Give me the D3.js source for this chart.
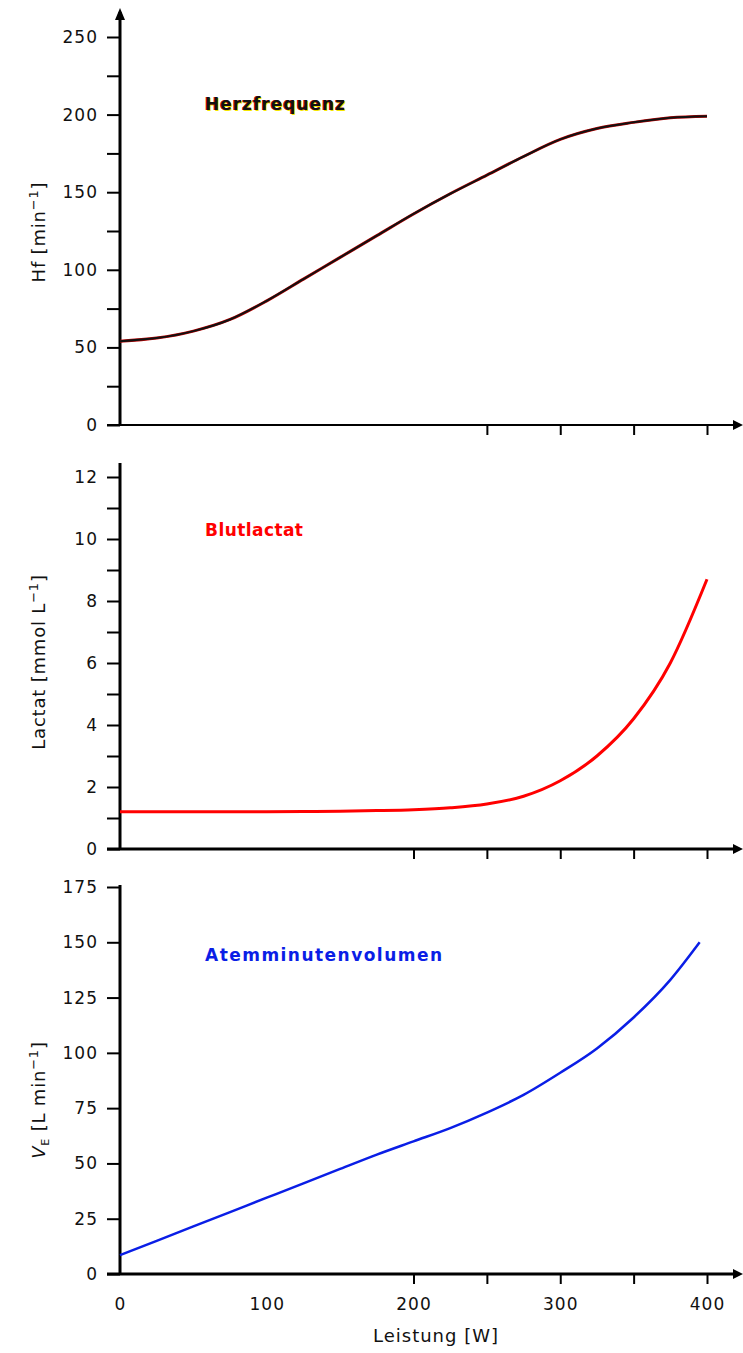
<!DOCTYPE html>
<html>
<head>
<meta charset="utf-8">
<script src="https://cdn.jsdelivr.net/npm/d3@7"></script>
<style>
  body { margin: 0; background: #fff; }
  svg { display: block; }
  text { font-family: "DejaVu Sans", "Open Sans", sans-serif; }
</style>
</head>
<body>
<svg width="743" height="1353"></svg>
<script>
// x values (Leistung in W) shared by all panels
const leistung = [0, 25, 50, 75, 100, 125, 150, 175, 200, 225, 250, 275, 300, 325, 350, 375, 400];

// Herzfrequenz [min-1]
const hf = [54, 56, 60.5, 68, 80, 94, 108, 122, 136, 149, 161, 173, 184, 191, 195, 198, 199];

// Blutlactat [mmol/L]
const lactat = [1.2, 1.2, 1.2, 1.2, 1.2, 1.21, 1.22, 1.24, 1.27, 1.33, 1.45, 1.7, 2.2, 3.0, 4.2, 6.0, 8.7];

// Atemminutenvolumen [L/min] (last point at 395 W)
const veX = [0, 25, 50, 75, 100, 125, 150, 175, 200, 225, 250, 275, 300, 325, 350, 375, 395];
const ve = [8.5, 15, 21.5, 28, 34.5, 41, 47.5, 54, 60, 66, 73, 81, 91, 102, 116, 133, 150];

const hfTicks = [0, 50, 100, 150, 200, 250];
const lacTicks = [0, 2, 4, 6, 8, 10, 12];
const veTicks = [0, 25, 50, 75, 100, 125, 150, 175];
const xLabels = [0, 100, 200, 300, 400];
const xTickMarks = [200, 250, 300, 350, 400];

const svg = d3.select('svg');

const x = d3.scaleLinear().domain([0, 400]).range([120, 707]);

// draw one panel; returns the y scale
function panel(opt) {
    const y = d3.scaleLinear().domain(opt.domain).range(opt.range);
    const g = svg.append('g');

    // minor ticks (no labels)
    g.append('g')
        .attr('transform', `translate(${x(0)},0)`)
        .call(d3.axisLeft(y).tickValues(opt.minor).tickSize(13).tickFormat(''))
        .call(a => a.select('.domain').remove())
        .call(a => a.selectAll('line').attr('stroke', '#000').attr('stroke-width', 2));

    // major ticks with labels
    g.append('g')
        .attr('transform', `translate(${x(0)},0)`)
        .call(d3.axisLeft(y).tickValues(opt.ticks).tickSize(13).tickPadding(9))
        .call(a => a.select('.domain').remove())
        .call(a => a.selectAll('line').attr('stroke', '#000').attr('stroke-width', 2))
        .call(a => a.selectAll('text')
            .attr('font-family', '"DejaVu Sans", sans-serif')
            .attr('font-size', 17).attr('fill', '#111')
            .attr('letter-spacing', 1));

    // x axis tick marks below the line
    g.append('g')
        .attr('transform', `translate(0,${y(0)})`)
        .call(d3.axisBottom(x).tickValues(opt.xTicks).tickSize(10).tickFormat(''))
        .call(a => a.select('.domain').remove())
        .call(a => a.selectAll('line').attr('stroke', '#000').attr('stroke-width', 2));

    // x axis line with arrow
    g.append('line')
        .attr('x1', 107).attr('x2', 738)
        .attr('y1', y(0)).attr('y2', y(0))
        .attr('stroke', '#000').attr('stroke-width', opt.xWidth);
    g.append('path')
        .attr('d', `M743,${y(0)} L733,${y(0) - 5} L733,${y(0) + 5} Z`)
        .attr('fill', '#000');

    // y axis line
    g.append('line')
        .attr('x1', x(0)).attr('x2', x(0))
        .attr('y1', y(0) + 1).attr('y2', opt.top)
        .attr('stroke', '#000').attr('stroke-width', 3);
    if (opt.arrow) {
        g.append('path')
            .attr('d', `M${x(0)},${opt.top - 4} L${x(0) - 5},${opt.top + 8} L${x(0) + 5},${opt.top + 8} Z`)
            .attr('fill', '#000');
    }

    // axis title
    const t = g.append('text')
        .attr('transform', `translate(45,${opt.titleY}) rotate(-90)`)
        .attr('text-anchor', 'middle')
        .attr('font-size', 18)
        .attr('letter-spacing', 0.8)
        .attr('fill', '#111');
    opt.title(t);

    return y;
}

function sup(t) {
    t.append('tspan').attr('dy', -7).attr('font-size', 13).text('\u22121');
    t.append('tspan').attr('dy', 7).text(']');
}

// ---- Herzfrequenz ----
const yHf = panel({
    domain: [0, 250], range: [425, 37], top: 12, arrow: true,
    ticks: hfTicks, minor: d3.range(25, 250, 50), xTicks: [250, 300, 350, 400],
    xWidth: 2, titleY: 232,
    title: t => { t.append('tspan').text('Hf [min'); sup(t); }
});

const hfLine = d3.line().x(d => x(d[0])).y(d => yHf(d[1])).curve(d3.curveMonotoneX);
svg.append('path')
    .datum(leistung.map((d, i) => [d, hf[i]]))
    .attr('fill', 'none')
    .attr('stroke', '#c00000')
    .attr('stroke-width', 3)
    .attr('d', hfLine);
svg.append('path')
    .datum(leistung.map((d, i) => [d, hf[i]]))
    .attr('fill', 'none')
    .attr('stroke', '#111')
    .attr('stroke-width', 2)
    .attr('d', hfLine);

// label with the coloured fringe of the print
[['#f5e600', 1, 1], ['#e00000', -0.7, 0], ['#111', 0, 0]].forEach(([c, dx, dy]) => {
    svg.append('text')
        .attr('x', 205 + dx).attr('y', 110 + dy)
        .attr('font-size', 17).attr('font-weight', 'bold')
        .attr('textLength', 140).attr('lengthAdjust', 'spacing')
        .attr('fill', c)
        .text('Herzfrequenz');
});

// ---- Blutlactat ----
const yLac = panel({
    domain: [0, 12], range: [849, 477], top: 463, arrow: false,
    ticks: lacTicks, minor: d3.range(1, 12, 2), xTicks: xTickMarks,
    xWidth: 3, titleY: 662,
    title: t => { t.append('tspan').text('Lactat [mmol L'); sup(t); }
});

svg.append('path')
    .datum(leistung.map((d, i) => [d, lactat[i]]))
    .attr('fill', 'none')
    .attr('stroke', '#ff0000')
    .attr('stroke-width', 3)
    .attr('d', d3.line().x(d => x(d[0])).y(d => yLac(d[1])).curve(d3.curveMonotoneX));

svg.append('text')
    .attr('x', 205).attr('y', 536)
    .attr('font-size', 17).attr('font-weight', 'bold')
    .attr('textLength', 98).attr('lengthAdjust', 'spacing')
    .attr('fill', '#ff0000')
    .text('Blutlactat');

// ---- Atemminutenvolumen ----
const yVe = panel({
    domain: [0, 175], range: [1274, 887], top: 885, arrow: false,
    ticks: veTicks, minor: [], xTicks: xTickMarks,
    xWidth: 3, titleY: 1100,
    title: t => {
        t.append('tspan').attr('font-style', 'italic').text('V');
        t.append('tspan').attr('dy', 4).attr('font-size', 11).text('E');
        t.append('tspan').attr('dy', -4).text(' [L min');
        sup(t);
    }
});

svg.append('path')
    .datum(veX.map((d, i) => [d, ve[i]]))
    .attr('fill', 'none')
    .attr('stroke', '#0a1ee6')
    .attr('stroke-width', 2.5)
    .attr('d', d3.line().x(d => x(d[0])).y(d => yVe(d[1])).curve(d3.curveMonotoneX));

svg.append('text')
    .attr('x', 205).attr('y', 961)
    .attr('font-size', 17).attr('font-weight', 'bold')
    .attr('textLength', 237).attr('lengthAdjust', 'spacing')
    .attr('fill', '#0a1ee6')
    .text('Atemminutenvolumen');

// x tick labels (bottom panel only)
svg.append('g')
    .attr('transform', `translate(0,${yVe(0)})`)
    .call(d3.axisBottom(x).tickValues(xLabels).tickSize(0).tickPadding(24))
    .call(a => a.select('.domain').remove())
    .call(a => a.selectAll('text')
        .attr('font-family', '"DejaVu Sans", sans-serif')
        .attr('font-size', 17).attr('fill', '#111')
        .attr('letter-spacing', 1));

svg.append('text')
    .attr('x', 436).attr('y', 1342)
    .attr('text-anchor', 'middle')
    .attr('font-size', 18)
    .attr('letter-spacing', 1)
    .attr('fill', '#111')
    .text('Leistung [W]');
</script>
</body>
</html>
